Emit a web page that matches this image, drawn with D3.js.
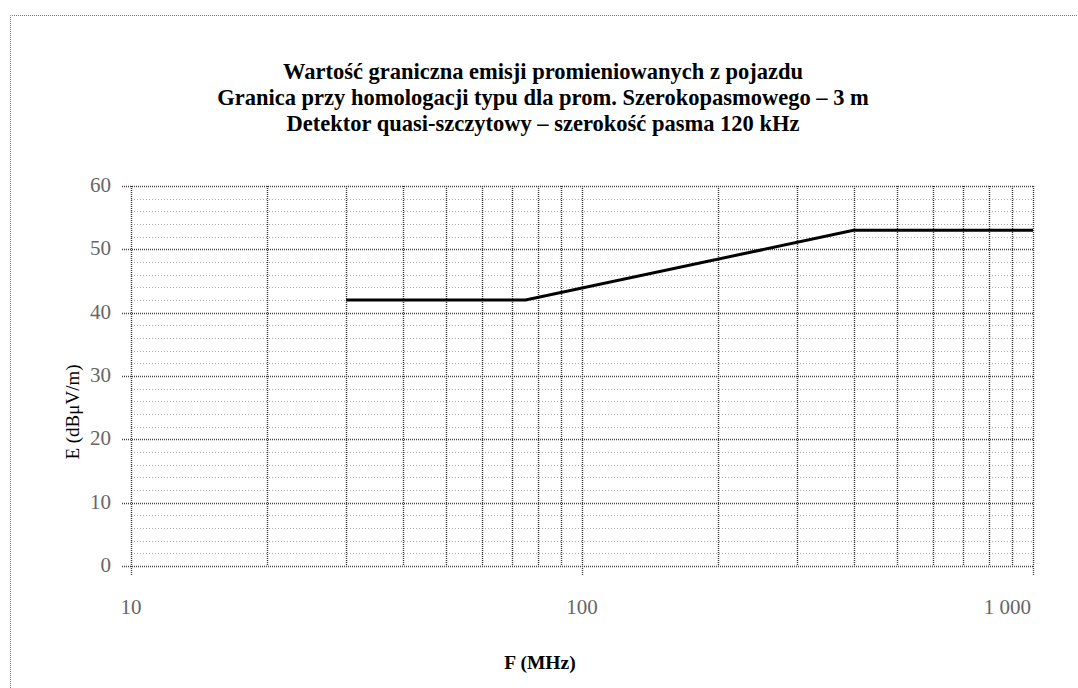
<!DOCTYPE html>
<html>
<head>
<meta charset="utf-8">
<script src="https://cdn.jsdelivr.net/npm/d3@7"></script>
<style>
  body { margin: 0; background: #fff; }
  svg { display: block; }
</style>
</head>
<body>
<svg id="chart" width="1078" height="688"></svg>
<script>
// data
const freqs = [30, 75, 400, 1000];          // MHz
const limits = [42, 42, 53, 53];            // dBµV/m
const yTicks = [0, 10, 20, 30, 40, 50, 60];
const xTicks = [10, 100, 1000];
const xTickLabels = ["10", "100", "1 000"];
const titleLines = [
  "Wartość graniczna emisji promieniowanych z pojazdu",
  "Granica przy homologacji typu dla prom. Szerokopasmowego – 3 m",
  "Detektor quasi-szczytowy – szerokość pasma 120 kHz"
];

let svg = d3.select("svg#chart");
let margin = { top: 186, right: 45, bottom: 122, left: 131 };
let chartWidth = 1078 - margin.left - margin.right;
let chartHeight = 688 - margin.top - margin.bottom;

const xScale = d3.scaleLog().domain([10, 1000]).range([0, chartWidth]);
const yScale = d3.scaleLinear().domain([0, 60]).range([chartHeight, 0]);

// outer dotted frame
svg.append("path")
  .attr("d", "M10.5,688 V15.5 H1078")
  .attr("fill", "none")
  .attr("stroke", "#777")
  .attr("stroke-dasharray", "1 1");

// title
svg.append("g").selectAll("text")
  .data(titleLines)
  .join("text")
  .attr("x", 543)
  .attr("y", (d, i) => 79 + i * 26)
  .attr("text-anchor", "middle")
  .style("font-family", "'Liberation Serif', serif")
  .style("font-weight", "bold")
  .style("font-size", "22.5px")
  .text(d => d);

let plot = svg.append("g")
  .attr("transform", "translate(" + margin.left + "," + margin.top + ")");

// minor horizontal grid every 2 units
let minor = d3.range(0, 61, 2).filter(v => v % 10 != 0);
plot.append("g").selectAll("line")
  .data(minor)
  .join("line")
  .attr("x1", 0).attr("x2", chartWidth)
  .attr("y1", d => Math.round(yScale(d)) + 0.5)
  .attr("y2", d => Math.round(yScale(d)) + 0.5)
  .attr("stroke", "#aaa")
  .attr("stroke-dasharray", "1 2");

// vertical grid (log ticks)
plot.append("g").selectAll("line")
  .data(xScale.ticks())
  .join("line")
  .attr("x1", d => Math.round(xScale(d)) + 0.5)
  .attr("x2", d => Math.round(xScale(d)) + 0.5)
  .attr("y1", 0).attr("y2", chartHeight)
  .attr("stroke", "#333")
  .attr("stroke-width", 1.4)
  .attr("stroke-dasharray", "1 1");

// major horizontal grid
plot.append("g").selectAll("line")
  .data(yTicks)
  .join("line")
  .attr("x1", -9).attr("x2", chartWidth)
  .attr("y1", d => Math.round(yScale(d)) + 0.5)
  .attr("y2", d => Math.round(yScale(d)) + 0.5)
  .attr("stroke", "#444")
  .attr("stroke-width", 1.6)
  .attr("stroke-dasharray", "1 1");

// x axis tick marks below the plot
plot.append("g").selectAll("line")
  .data(xTicks)
  .join("line")
  .attr("x1", d => Math.round(xScale(d)) + 0.5)
  .attr("x2", d => Math.round(xScale(d)) + 0.5)
  .attr("y1", chartHeight).attr("y2", chartHeight + 9)
  .attr("stroke", "#444")
  .attr("stroke-width", 1.4)
  .attr("stroke-dasharray", "1 1");

// y tick labels
plot.append("g").selectAll("text")
  .data(yTicks)
  .join("text")
  .attr("x", -20)
  .attr("y", d => yScale(d) + 6)
  .attr("text-anchor", "end")
  .attr("fill", "#666")
  .style("font-family", "'Liberation Serif', serif")
  .style("font-size", "21px")
  .text(d => d);

// x tick labels
plot.append("g").selectAll("text")
  .data(xTicks)
  .join("text")
  .attr("x", (d, i) => xScale(d) + (i == 2 ? -2 : 0))
  .attr("y", chartHeight + 48)
  .attr("text-anchor", (d, i) => i == 2 ? "end" : "middle")
  .attr("fill", "#666")
  .style("font-family", "'Liberation Serif', serif")
  .style("font-size", "21px")
  .text((d, i) => xTickLabels[i]);

// limit line
let limitLine = d3.line()
  .x((d, i) => xScale(d))
  .y((d, i) => yScale(limits[i]));
plot.append("path")
  .datum(freqs)
  .attr("d", limitLine)
  .attr("fill", "none")
  .attr("stroke", "#000")
  .attr("stroke-width", 3);

// axis titles
svg.append("text")
  .attr("x", 540)
  .attr("y", 669)
  .attr("text-anchor", "middle")
  .style("font-family", "'Liberation Serif', serif")
  .style("font-weight", "bold")
  .style("font-size", "19.5px")
  .text("F (MHz)");

svg.append("text")
  .attr("transform", "translate(79,412) rotate(-90)")
  .attr("text-anchor", "middle")
  .style("font-family", "'Liberation Serif', serif")
  .style("font-size", "19px")
  .text("E (dBμV/m)");
</script>
</body>
</html>
